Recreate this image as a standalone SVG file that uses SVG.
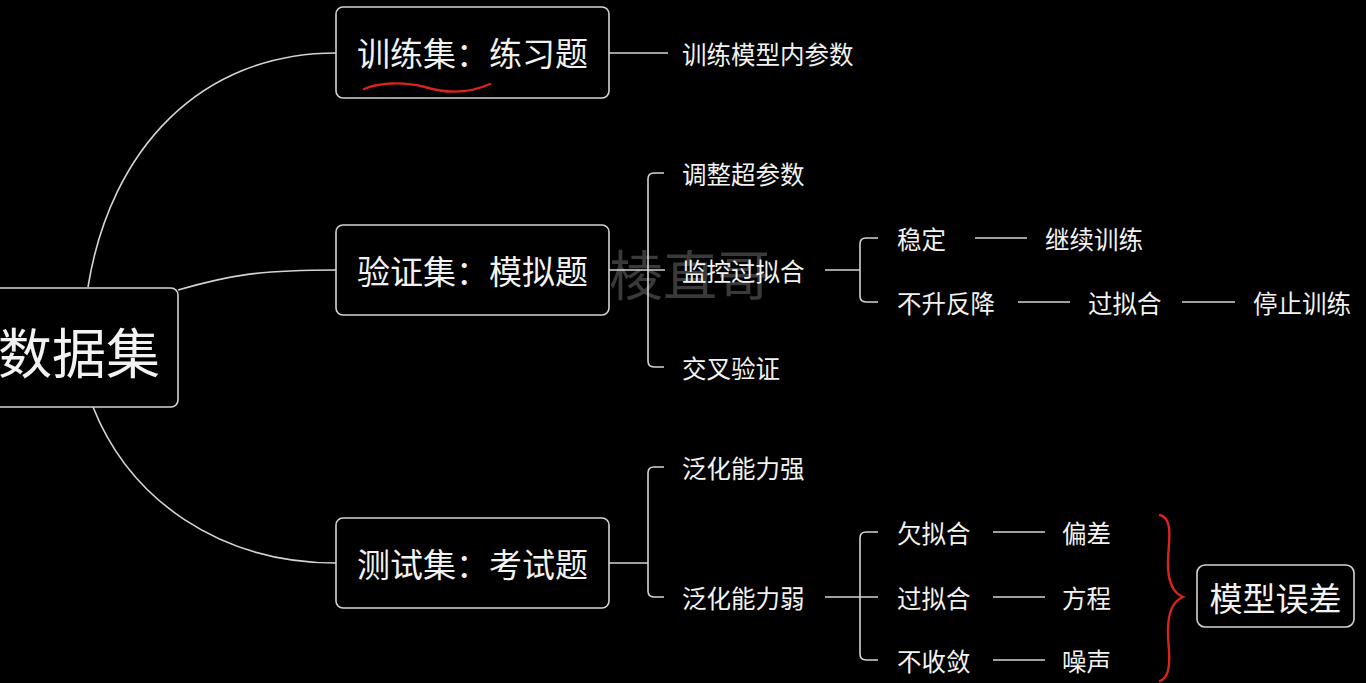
<svg xmlns="http://www.w3.org/2000/svg" width="1366" height="683" viewBox="0 0 1366 683">
<style>
.box{fill:#000;stroke:#d4d4d4;stroke-width:1.6}
.ln{fill:none;stroke:#d4d4d4;stroke-width:1.6}
.t{font-family:"Noto Sans CJK SC","Noto Sans",sans-serif;fill:#f2f2f2;dominant-baseline:central}
.t1{font-size:33px;text-anchor:middle}
.t2{font-size:24.5px}
.red{fill:none;stroke:#d8231f;stroke-width:2.4;stroke-linecap:round}
</style>
<rect width="1366" height="683" fill="#000"/>
<text x="690" y="272" font-family="Noto Sans CJK SC,sans-serif" font-size="54" fill="#3a3a3a" text-anchor="middle" dominant-baseline="central">棱直哥</text>
<g id="connectors">
<path class="ln" d="M88 287 C110 150 200 53 336 53"/>
<path class="ln" d="M178 290 C230 275 260 270 336 270"/>
<path class="ln" d="M93 407 C130 500 220 563 336 563"/>
<path class="ln" d="M609 53 H668"/>
<path class="ln" d="M609 270 H665"/>
<path class="ln" d="M664 173 H654 Q648 173 648 179 V361 Q648 367 654 367 H664"/>
<path class="ln" d="M825 270 H860"/>
<path class="ln" d="M878 238 H866 Q860 238 860 244 V296 Q860 302 866 302 H878"/>
<path class="ln" d="M975 238 H1027"/>
<path class="ln" d="M1018 302 H1070"/>
<path class="ln" d="M1182 302 H1235"/>
<path class="ln" d="M609 563 H648"/>
<path class="ln" d="M664 467 H654 Q648 467 648 473 V591 Q648 597 654 597 H664"/>
<path class="ln" d="M825 597 H878"/>
<path class="ln" d="M878 532 H866 Q860 532 860 538 V654 Q860 660 866 660 H878"/>
<path class="ln" d="M993 532 H1045"/>
<path class="ln" d="M993 597 H1045"/>
<path class="ln" d="M993 660 H1045"/>
</g>
<g id="root">
<rect class="box" x="-20" y="288" width="198" height="119" rx="7"/>
<text class="t" x="79" y="350" font-size="54" text-anchor="middle">数据集</text>
</g>
<g id="train">
<rect class="box" x="336" y="7" width="273" height="91" rx="7"/>
<text class="t t1" x="472.5" y="52">训练集：练习题</text>
<path class="red" d="M364 89 C378 83 402 81 425 87 C448 94 470 93 490 84"/>
</g>
<g id="val">
<rect class="box" x="336" y="225" width="273" height="90" rx="7"/>
<text class="t t1" x="472.5" y="270">验证集：模拟题</text>
</g>
<g id="test">
<rect class="box" x="336" y="518" width="273" height="90" rx="7"/>
<text class="t t1" x="472.5" y="563">测试集：考试题</text>
</g>
<g id="leaves">
<text class="t t2" x="682" y="53">训练模型内参数</text>
<text class="t t2" x="682" y="173">调整超参数</text>
<text class="t t2" x="682" y="270">监控过拟合</text>
<text class="t t2" x="682" y="367">交叉验证</text>
<text class="t t2" x="897" y="238">稳定</text>
<text class="t t2" x="1045" y="238">继续训练</text>
<text class="t t2" x="897" y="302">不升反降</text>
<text class="t t2" x="1088" y="302">过拟合</text>
<text class="t t2" x="1253" y="302">停止训练</text>
<text class="t t2" x="682" y="467">泛化能力强</text>
<text class="t t2" x="682" y="597">泛化能力弱</text>
<text class="t t2" x="897" y="532">欠拟合</text>
<text class="t t2" x="1062" y="532">偏差</text>
<text class="t t2" x="897" y="597">过拟合</text>
<text class="t t2" x="1062" y="597">方程</text>
<text class="t t2" x="897" y="660">不收敛</text>
<text class="t t2" x="1062" y="660">噪声</text>
</g>
<g id="brace">
<path class="red" stroke-width="2" d="M1160 515 C1170 518 1170 530 1169 545 C1167 565 1166 590 1183 597 C1166 604 1167 630 1169 650 C1170 668 1168 678 1160 681"/>
</g>
<g id="model-error">
<rect class="box" x="1197" y="565" width="157" height="62" rx="8"/>
<text class="t" x="1275.5" y="597" font-size="33" text-anchor="middle">模型误差</text>
</g>
</svg>
